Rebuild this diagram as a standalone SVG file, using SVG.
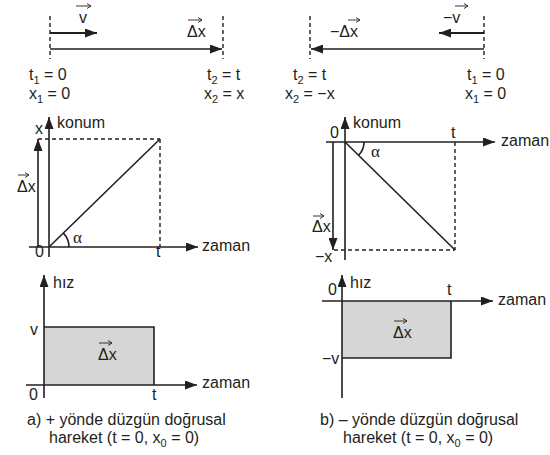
<svg xmlns="http://www.w3.org/2000/svg" width="550" height="455" viewBox="0 0 550 455">
<style>
text{font-family:"Liberation Sans",Arial,sans-serif;font-size:16px;fill:#231f20}
.sub{font-size:11px}
.cap{font-size:16px}
.gr{font-family:"Liberation Serif","Times New Roman",serif;font-size:17px}
.ax{stroke:#231f20;stroke-width:1.6;fill:none}
.thick{stroke:#231f20;stroke-width:2.2;fill:none}
.dash{stroke:#231f20;stroke-width:1.4;fill:none;stroke-dasharray:4 3}
.vec{stroke:#231f20;stroke-width:0.9;fill:none}
.area{fill:#d6d6d6;stroke:none}
</style>
<defs>
<marker id="ah" markerUnits="userSpaceOnUse" markerWidth="12" markerHeight="9" refX="12" refY="4.5" orient="auto">
<path d="M0,0 L12,4.5 L0,9 z" fill="#231f20"/>
</marker>
</defs>

<g id="top-left">
<line class="dash" x1="50" y1="16" x2="50" y2="59"/>
<line class="dash" x1="223" y1="16" x2="223" y2="59"/>
<text x="79" y="23">v</text>
<path class="vec" d="M76,6 H91 M87,3.5 L91,6 L87,8.5"/>
<text x="187" y="37">Δx</text>
<path class="vec" d="M188,20 H202 M198,17.5 L202,20 L198,22.5"/>
<text x="29" y="80">t<tspan class="sub" dy="4">1</tspan><tspan dy="-4"> = 0</tspan></text>
<text x="29" y="99">x<tspan class="sub" dy="4">1</tspan><tspan dy="-4"> = 0</tspan></text>
<text x="207" y="80">t<tspan class="sub" dy="4">2</tspan><tspan dy="-4"> = t</tspan></text>
<text x="204" y="99">x<tspan class="sub" dy="4">2</tspan><tspan dy="-4"> = x</tspan></text>
</g>

<g id="top-right">
<line class="dash" x1="310" y1="16" x2="310" y2="59"/>
<line class="dash" x1="484" y1="16" x2="484" y2="59"/>
<text x="443" y="23">−v</text>
<path class="vec" d="M455,6 H468 M464,3.5 L468,6 L464,8.5"/>
<text x="330" y="37">−Δx</text>
<path class="vec" d="M348,20 H360 M356,17.5 L360,20 L356,22.5"/>
<text x="293" y="80">t<tspan class="sub" dy="4">2</tspan><tspan dy="-4"> = t</tspan></text>
<text x="285" y="99">x<tspan class="sub" dy="4">2</tspan><tspan dy="-4"> = −x</tspan></text>
<text x="467" y="80">t<tspan class="sub" dy="4">1</tspan><tspan dy="-4"> = 0</tspan></text>
<text x="465" y="99">x<tspan class="sub" dy="4">1</tspan><tspan dy="-4"> = 0</tspan></text>
</g>

<g id="mid-left">
<line class="dash" x1="38" y1="139" x2="160" y2="139"/>
<line class="dash" x1="160" y1="139" x2="160" y2="247"/>
<line class="ax" x1="49" y1="247" x2="160" y2="139"/>
<path class="ax" d="M69,247 A20,20 0 0 0 63.4,233.1"/>
<text x="35" y="134">x</text>
<text x="57" y="128">konum</text>
<text x="17" y="192">Δx</text>
<path class="vec" d="M18,175 H29 M25,172.5 L29,175 L25,177.5"/>
<text x="35" y="257">0</text>
<text x="156" y="257">t</text>
<text class="gr" x="73" y="243">α</text>
<text x="202" y="251">zaman</text>
</g>

<g id="mid-right">
<line class="dash" x1="455" y1="142" x2="455" y2="250"/>
<line class="dash" x1="334" y1="250" x2="455" y2="250"/>
<line class="ax" x1="345" y1="142" x2="455" y2="250"/>
<path class="ax" d="M364,142 A19,19 0 0 1 358.5,155.3"/>
<text x="353" y="128">konum</text>
<text x="330" y="138">0</text>
<text x="451" y="138">t</text>
<text x="501" y="146">zaman</text>
<text x="312" y="232">Δx</text>
<path class="vec" d="M313,216 H324 M320,213.5 L324,216 L320,218.5"/>
<text x="315" y="262">−x</text>
<text class="gr" x="371" y="157">α</text>
</g>

<g id="bottom-left">
<rect class="area" x="44" y="327" width="110" height="58"/>
<path class="ax" d="M44,327 H154 V385"/>
<text x="53" y="288">hız</text>
<text x="30" y="335">v</text>
<text x="98" y="360">Δx</text>
<path class="vec" d="M99,343 H112 M108,340.5 L112,343 L108,345.5"/>
<text x="29" y="400">0</text>
<text x="152" y="400">t</text>
<text x="202" y="388">zaman</text>
<text class="cap" x="27" y="425">a) + yönde düzgün doğrusal</text>
<text class="cap" x="49" y="443">hareket (t = 0, x<tspan class="sub" dy="4">0</tspan><tspan dy="-4"> = 0)</tspan></text>
</g>

<g id="bottom-right">
<rect class="area" x="342" y="301" width="109" height="57"/>
<path class="ax" d="M451,301 V358 H342"/>
<text x="350" y="288">hız</text>
<text x="328" y="295">0</text>
<text x="447" y="295">t</text>
<text x="498" y="305">zaman</text>
<text x="322" y="364">−v</text>
<text x="393" y="338">Δx</text>
<path class="vec" d="M394,321 H407 M403,318.5 L407,321 L403,323.5"/>
<text class="cap" x="320" y="425">b) – yönde düzgün doğrusal</text>
<text class="cap" x="343" y="443">hareket (t = 0, x<tspan class="sub" dy="4">0</tspan><tspan dy="-4"> = 0)</tspan></text>
</g>

<g id="connectors">
<line class="thick" x1="50" y1="33" x2="97" y2="33" marker-end="url(#ah)"/>
<line class="ax" x1="50" y1="49" x2="222" y2="49" marker-end="url(#ah)"/>
<line class="thick" x1="484" y1="33" x2="439" y2="33" marker-end="url(#ah)"/>
<line class="ax" x1="484" y1="49" x2="311" y2="49" marker-end="url(#ah)"/>
<line class="ax" x1="49" y1="257" x2="49" y2="117" marker-end="url(#ah)"/>
<line class="ax" x1="29" y1="247" x2="198" y2="247" marker-end="url(#ah)"/>
<line class="ax" x1="38" y1="247" x2="38" y2="139" marker-end="url(#ah)"/>
<line class="ax" x1="345" y1="260" x2="345" y2="117" marker-end="url(#ah)"/>
<line class="ax" x1="326" y1="142" x2="495" y2="142" marker-end="url(#ah)"/>
<line class="ax" x1="333" y1="142" x2="333" y2="250" marker-end="url(#ah)"/>
<line class="ax" x1="44" y1="398" x2="44" y2="275" marker-end="url(#ah)"/>
<line class="ax" x1="26" y1="385" x2="197" y2="385" marker-end="url(#ah)"/>
<line class="ax" x1="342" y1="398" x2="342" y2="275" marker-end="url(#ah)"/>
<line class="ax" x1="322" y1="301" x2="493" y2="301" marker-end="url(#ah)"/>
</g>
</svg>
